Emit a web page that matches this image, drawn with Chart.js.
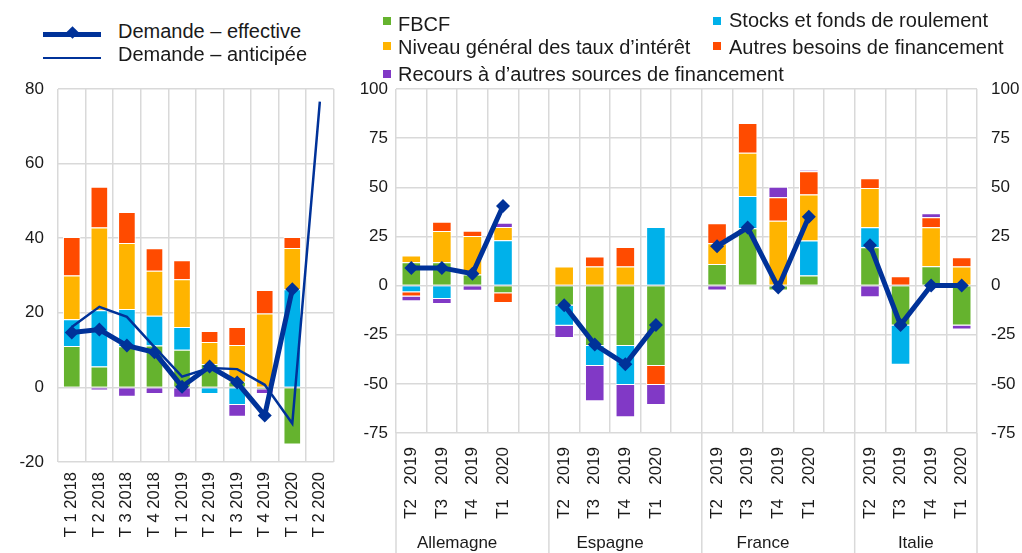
<!DOCTYPE html>
<html>
<head>
<meta charset="utf-8">
<script src="https://cdn.jsdelivr.net/npm/chart.js@4/dist/chart.umd.min.js"></script>
<style>
  body { margin: 0; background: #fff; width: 1022px; height: 553px; overflow: hidden; position: relative; font-family: 'Liberation Sans', Arial, sans-serif; color: #1a1a1a; }
  #boxLeft { position: absolute; left: 0; top: 60px; width: 350px; height: 493px; }
  #boxRight { position: absolute; left: 340px; top: 60px; width: 682px; height: 493px; }
  .leg { position: absolute; font-size: 20px; line-height: 20px; white-space: nowrap; z-index: 2; }
  .sq { position: absolute; width: 8px; height: 8px; z-index: 2; }
  .ln { position: absolute; background: #003299; z-index: 2; }
</style>
</head>
<body>

<div class="ln" style="left:43px;top:32px;width:58px;height:5px;"></div>
<div class="ln" style="left:68px;top:28px;width:9px;height:9px;transform:rotate(45deg);"></div>
<div class="leg" style="left:118px;top:21px;">Demande – effective</div>
<div class="ln" style="left:43px;top:57px;width:58px;height:2px;"></div>
<div class="leg" style="left:118px;top:44px;">Demande – anticipée</div>

<div class="sq" style="left:383px;top:17px;background:#65b32e;"></div>
<div class="leg" style="left:398px;top:14px;">FBCF</div>
<div class="sq" style="left:383px;top:42px;background:#ffb400;"></div>
<div class="leg" style="left:398px;top:37px;">Niveau général des taux d’intérêt</div>
<div class="sq" style="left:383px;top:70px;background:#8139c6;"></div>
<div class="leg" style="left:398px;top:64px;">Recours à d’autres sources de financement</div>
<div class="sq" style="left:713px;top:17px;background:#00b1ea;"></div>
<div class="leg" style="left:729px;top:10px;">Stocks et fonds de roulement</div>
<div class="sq" style="left:713px;top:42px;background:#ff4b00;"></div>
<div class="leg" style="left:729px;top:37px;">Autres besoins de financement</div>

<div id="boxLeft"><canvas id="graficoEsquerda"></canvas></div>
<div id="boxRight"><canvas id="graficoDireita"></canvas></div>

<script>
const VERDE = '#65b32e'
const AZUL_CLARO = '#00b1ea'
const AMARELO = '#ffb400'
const LARANJA = '#ff4b00'
const ROXO = '#8139c6'
const AZUL = '#003299'
const GRADE = '#d9d9d9'
const FONTE = "'Liberation Sans', Arial, sans-serif"

// zone euro, T1 2018 - T2 2020
const labelsEsquerda = ['T 1 2018', 'T 2 2018', 'T 3 2018', 'T 4 2018', 'T 1 2019', 'T 2 2019', 'T 3 2019', 'T 4 2019', 'T 1 2020', 'T 2 2020']
const fbcfEsq = [11.1, 5.6, 11, 11.2, 10.1, 6.3, 1.5, -0.5, -15.3, null]
const stocksEsq = [7.2, 15.1, 10, 8, 6.1, -1.8, -4.7, 0, 26.3, null]
const tauxEsq = [11.7, 22.2, 17.7, 12.1, 12.8, 5.9, 9.9, 19.8, 11.1, null]
const autresEsq = [10.3, 10.9, 8.3, 6, 5.1, 2.9, 4.8, 6.3, 2.9, null]
const recoursEsq = [0, -0.8, -2.5, -1.8, -2.8, 0, -3.2, -1.3, 0, null]
const effectiveEsq = [14.7, 15.5, 11.2, 9.4, 0.2, 5.6, 1.3, -7.5, 26.3, null]
const anticipeeEsq = [16.2, 21.6, 18.9, 10.8, 2.9, 5.2, 4.9, 0.7, -9.7, 76.6]
const ticksEsquerda = [-20, 0, 20, 40, 60, 80]

// pays, T2 2019 - T1 2020 (categorias vazias separam os grupos)
const pays = ['Allemagne', 'Espagne', 'France', 'Italie']
const labelsDireita = [
  'T2   2019', 'T3   2019', 'T4   2019', 'T1   2020', '',
  'T2   2019', 'T3   2019', 'T4   2019', 'T1   2020', '',
  'T2   2019', 'T3   2019', 'T4   2019', 'T1   2020', '',
  'T2   2019', 'T3   2019', 'T4   2019', 'T1   2020'
]
const fbcfDir = [11.9, 11.9, 5.6, -3.9, null, -10.2, -30.7, -30.7, -40.9, null, 11, 29.2, -2.5, 5.1, null, 19.5, -20.3, 9.8, -20.3]
const stocksDir = [-3.4, -6.8, 0, 23, null, -10.2, -10.2, -19.9, 29.8, null, 0, 16.4, 0, 17.8, null, 10.2, -20, 0, 0]
const tauxDir = [3.4, 15.9, 19.6, 6.8, null, 9.7, 9.7, 9.7, 0, null, 10.5, 22, 33, 23.4, null, 20, 0, 19.9, 9.7]
const autresDir = [-2.2, 4.7, 2.7, -5, null, 0, 5.1, 9.9, -9.7, null, 10.2, 15.1, 11.9, 11.8, null, 4.9, 4.7, 5, 4.7]
const recoursDir = [-2.4, -2.6, -2.6, 2.1, null, -6.3, -17.9, -16.4, -10.2, null, -2.5, 0, 5.4, 0.7, null, -5.9, 0, 2.1, -2.1]
const effectiveDir = [9, 9, 6, 40.5, null, -10, -30, -40, -20, null, 20, 29.5, -1, 35, null, 20.5, -20, 0, 0]
const ticksDireita = [-75, -50, -25, 0, 25, 50, 75, 100]

function barra(dados, cor) {
  return {
    type: 'bar', data: dados, backgroundColor: cor, borderColor: '#fff', borderWidth: 1,
    stack: 'barras', order: 1, barPercentage: 0.64, categoryPercentage: 1
  }
}

function linhaEffective(dados) {
  return {
    type: 'line', data: dados, borderColor: AZUL, backgroundColor: AZUL, borderWidth: 5,
    pointStyle: 'rectRot', pointRadius: 7, pointBorderWidth: 0, stack: 'eff', order: 0, spanGaps: false
  }
}

function barrasDe(f, s, t, a, r) {
  return [barra(f, VERDE), barra(s, AZUL_CLARO), barra(t, AMARELO), barra(a, LARANJA), barra(r, ROXO)]
}

function eixoY(ticksLista, pos, largura, padding) {
  return {
    position: pos,
    stacked: true,
    min: ticksLista[0],
    max: ticksLista[ticksLista.length - 1],
    afterBuildTicks: (scale) => { scale.ticks = ticksLista.map(v => ({ value: v })) },
    afterFit: (scale) => { scale.width = largura },
    grid: { color: GRADE, lineWidth: 1.5, drawTicks: false, drawOnChartArea: pos == 'left' },
    border: { display: false },
    ticks: { color: '#1a1a1a', font: { family: FONTE, size: 17 }, padding: padding }
  }
}

function graficoEsquerda() {
  const ctx = document.getElementById('graficoEsquerda').getContext('2d')
  new Chart(ctx, {
    data: {
      labels: labelsEsquerda,
      datasets: [
        linhaEffective(effectiveEsq),
        { type: 'line', data: anticipeeEsq, borderColor: AZUL, borderWidth: 2.5, pointRadius: 0, stack: 'ant', order: 0 },
        ...barrasDe(fbcfEsq, stocksEsq, tauxEsq, autresEsq, recoursEsq)
      ]
    },
    options: {
      responsive: true,
      maintainAspectRatio: false,
      animation: false,
      layout: { padding: { top: 29, right: 7, left: 0, bottom: 0 } },
      plugins: { legend: { display: false }, tooltip: { enabled: false } },
      scales: {
        x: {
          stacked: true,
          afterFit: (scale) => { scale.height = 91 },
          grid: { offset: true, color: GRADE, lineWidth: 1.5, drawTicks: false },
          border: { display: false },
          ticks: { color: '#1a1a1a', font: { family: FONTE, size: 16.5 }, minRotation: 90, maxRotation: 90, padding: 10, autoSkip: false }
        },
        y: eixoY(ticksEsquerda, 'left', 58, 14)
      }
    }
  })
}

// linhas separadoras e nomes dos pais embaixo do eixo
const pluginPaises = {
  id: 'pluginPaises',
  afterDraw(chart) {
    const ctx = chart.ctx
    const x = chart.scales.x
    const passo = x.width / labelsDireita.length
    const base = chart.chartArea.bottom
    ctx.save()
    ctx.strokeStyle = GRADE
    ctx.lineWidth = 1.5
    const limites = [0, 5, 10, 15, 19]
    limites.forEach(i => {
      const px = x.left + i * passo
      ctx.beginPath()
      ctx.moveTo(px, base)
      ctx.lineTo(px, chart.height)
      ctx.stroke()
    })
    ctx.fillStyle = '#1a1a1a'
    ctx.font = '17px ' + FONTE
    ctx.textAlign = 'center'
    ctx.textBaseline = 'middle'
    pays.forEach((nome, g) => {
      const centro = (x.getPixelForValue(g * 5) + x.getPixelForValue(g * 5 + 3)) / 2
      ctx.fillText(nome, centro, chart.height - 10)
    })
    ctx.restore()
  }
}

function graficoDireita() {
  const ctx = document.getElementById('graficoDireita').getContext('2d')
  const y2 = eixoY(ticksDireita, 'right', 45, 14)
  new Chart(ctx, {
    data: {
      labels: labelsDireita,
      datasets: [
        linhaEffective(effectiveDir),
        ...barrasDe(fbcfDir, stocksDir, tauxDir, autresDir, recoursDir)
      ]
    },
    options: {
      responsive: true,
      maintainAspectRatio: false,
      animation: false,
      layout: { padding: { top: 29, right: 0, left: 0, bottom: 0 } },
      plugins: { legend: { display: false }, tooltip: { enabled: false } },
      scales: {
        x: {
          stacked: true,
          afterFit: (scale) => { scale.height = 120 },
          grid: { offset: true, color: GRADE, lineWidth: 1.5, drawTicks: false },
          border: { display: false },
          ticks: { color: '#1a1a1a', font: { family: FONTE, size: 17 }, minRotation: 90, maxRotation: 90, padding: 14, autoSkip: false }
        },
        y: eixoY(ticksDireita, 'left', 56, 8),
        y2: y2
      }
    },
    plugins: [pluginPaises]
  })
}

window.onload = () => {
  graficoEsquerda()
  graficoDireita()
}
</script>
</body>
</html>
